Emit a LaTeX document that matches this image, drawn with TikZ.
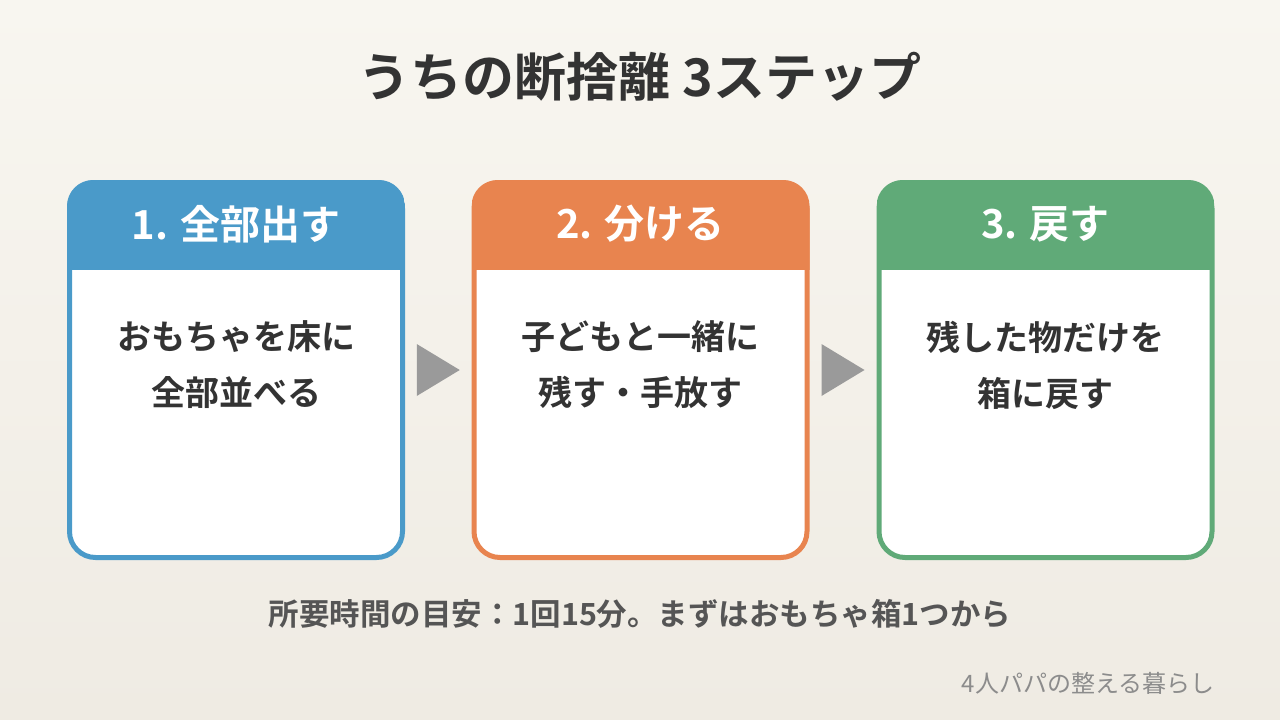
\documentclass[tikz,border=0pt]{standalone}
\usepackage{fontspec}
\setmainfont{Noto Sans CJK JP}[BoldFont={Noto Sans CJK JP Bold}]
\usetikzlibrary{calc}
\definecolor{bgtop}{HTML}{F8F6F0}
\definecolor{bgbot}{HTML}{EFEBE3}
\definecolor{stepblue}{HTML}{4A9AC9}
\definecolor{steporange}{HTML}{E8844F}
\definecolor{stepgreen}{HTML}{60AA78}
\definecolor{bodytext}{HTML}{333333}
\definecolor{notetext}{HTML}{555555}
\definecolor{signtext}{HTML}{8C8C8C}
\definecolor{arrowgray}{HTML}{9A9A9A}
\tikzset{
  card/.style={draw=#1, line width=5pt, fill=white, rounded corners=26pt,
    minimum width=333pt, minimum height=375pt, inner sep=0pt},
  headtext/.style={text=white, font=\fontsize{40}{46}\selectfont\bfseries},
  bodybox/.style={text=bodytext, align=center, font=\fontsize{34}{56}\selectfont\bfseries}
}
\begin{document}
\begin{tikzpicture}[x=1pt, y=-1pt]
\shade[top color=bgtop, bottom color=bgbot] (0,0) rectangle (1280,720);
\useasboundingbox (0,0) rectangle (1280,720);

\node[text=bodytext, font=\fontsize{52}{58}\selectfont\bfseries] (title) at (640,77) {うちの断捨離 3ステップ};

% three step cards
\foreach \i/\cx/\col/\head in {1/236/stepblue/{1. 全部出す}, 2/640.5/steporange/{2. 分ける}, 3/1045.5/stepgreen/{3. 戻す}} {
  \node[card=\col] (card\i) at (\cx,370) {};
  \begin{scope}
    \clip[rounded corners=26pt] (card\i.north west) rectangle (card\i.south east);
    \fill[\col] (card\i.north west) rectangle ($(card\i.north east)+(0,90)$);
  \end{scope}
  \node[headtext] (head\i) at (\cx,224) {\head};
}

\node[bodybox] (body1) at (card1.center |- 0,365) {おもちゃを床に\\全部並べる};
\node[bodybox] (body2) at (card2.center |- 0,365) {子どもと一緒に\\残す・手放す};
\node[bodybox] (body3) at (card3.center |- 0,365) {残した物だけを\\箱に戻す};

% arrows between cards
\foreach \a/\b in {1/2, 2/3} {
  \coordinate (arr\a) at ($(card\a.east)!0.5!(card\b.west)$);
  \fill[arrowgray] ($(arr\a)+(-21.5,-26)$) -- ($(arr\a)+(-21.5,26)$) -- ($(arr\a)+(21.5,0)$) -- cycle;
}

\node[text=notetext, font=\fontsize{30.5}{36}\selectfont\bfseries] (note) at (640,614) {所要時間の目安：1回15分。まずはおもちゃ箱1つから};
\node[text=signtext, anchor=east, font=\fontsize{24}{28}\selectfont] (sign) at (1218,683) {4人パパの整える暮らし};
\end{tikzpicture}
\end{document}
